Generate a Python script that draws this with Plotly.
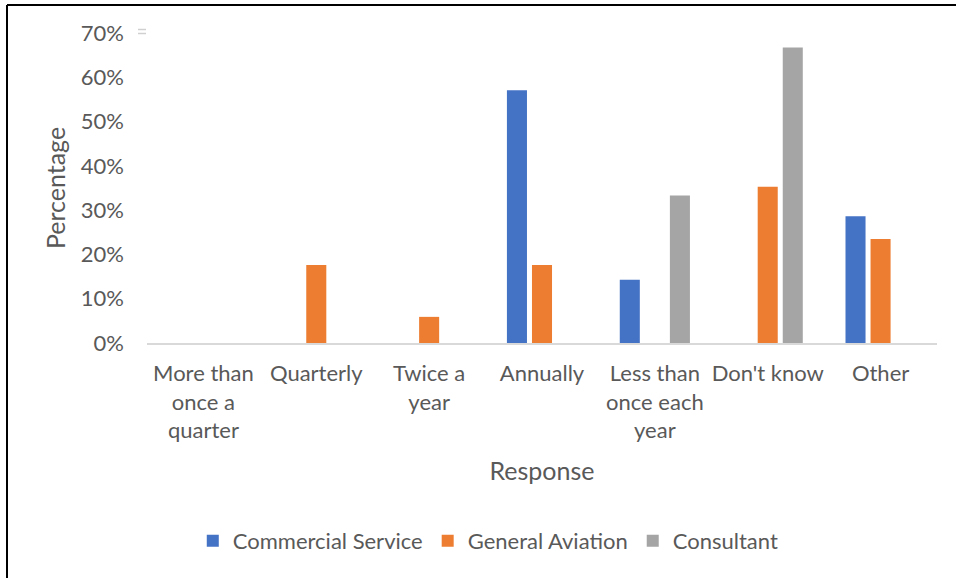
import plotly.graph_objects as go

# Survey responses: how often the facility's plan is reviewed
categories = [
    "More than<br>once a<br>quarter",
    "Quarterly",
    "Twice a<br>year",
    "Annually",
    "Less than<br>once each<br>year",
    "Don't know",
    "Other",
]
commercial_service = [0, 0, 0, 57.1, 14.3, 0, 28.6]
general_aviation = [0, 17.6, 5.9, 17.6, 0, 35.3, 23.5]
consultant = [0, 0, 0, 0, 33.3, 66.7, 0]

y_ticks = [0, 10, 20, 30, 40, 50, 60, 70]
y_tick_labels = [f"{v}%" for v in y_ticks]

W, H = 956, 578
ML, MR, MT, MB = 147, 19, 33, 235
PW, PH = W - ML - MR, H - MT - MB

FONT = "Lato, 'Open Sans', sans-serif"
TXT = "#595959"
FS = 22
FS_TITLE = 25


def px_x(px):
    return (px - ML) / PW


def px_y(py):
    return (H - MB - py) / PH


fig = go.Figure()
for name, vals, color in [
    ("Commercial Service", commercial_service, "#4472C4"),
    ("General Aviation", general_aviation, "#ED7D31"),
    ("Consultant", consultant, "#A5A5A5"),
]:
    fig.add_trace(go.Bar(name=name, x=categories, y=vals, marker_color=color,
                         marker_line_width=0))

# chart frame (top and left edges) and small stray mark near the top tick
shapes = [
    dict(type="line", xref="paper", yref="paper", x0=px_x(7), x1=px_x(W + 2),
         y0=px_y(5), y1=px_y(5), line=dict(color="#000000", width=2)),
    dict(type="line", xref="paper", yref="paper", x0=px_x(7), x1=px_x(7),
         y0=px_y(5), y1=px_y(H + 2), line=dict(color="#000000", width=2)),
    dict(type="line", xref="paper", yref="paper", x0=px_x(138), x1=px_x(146),
         y0=px_y(29.5), y1=px_y(29.5), line=dict(color="#D0D0D0", width=1.5)),
    dict(type="line", xref="paper", yref="paper", x0=px_x(138), x1=px_x(146),
         y0=px_y(33.5), y1=px_y(33.5), line=dict(color="#D0D0D0", width=1.5)),
]

fig.update_layout(
    width=W, height=H,
    margin=dict(l=ML, r=MR, t=MT, b=MB, pad=0),
    paper_bgcolor="white", plot_bgcolor="white",
    barmode="group", bargap=0.334, bargroupgap=0.2,
    font=dict(family=FONT, size=FS, color=TXT),
    showlegend=True,
    legend=dict(orientation="h", x=0.432, xanchor="center", y=px_y(541), yanchor="middle",
                font=dict(family=FONT, size=FS, color=TXT),
                traceorder="normal", itemwidth=30),
    shapes=shapes,
    xaxis=dict(
        title=dict(text="Response", font=dict(family=FONT, size=FS_TITLE, color=TXT),
                   standoff=20),
        showgrid=False, zeroline=False, showline=True, linecolor="#D9D9D9", linewidth=1.5,
        ticks="", tickfont=dict(family=FONT, size=FS, color=TXT), ticklabelstandoff=10,
        automargin=False,
    ),
    yaxis=dict(
        title=dict(text="Percentage", font=dict(family=FONT, size=FS_TITLE, color=TXT),
                   standoff=8),
        range=[0, 70], tickmode="array", tickvals=y_ticks, ticktext=y_tick_labels,
        showgrid=False, zeroline=False, showline=False, ticks="",
        tickfont=dict(family=FONT, size=FS, color=TXT), ticklabelstandoff=22,
        automargin=False,
    ),
)

fig.write_html("out.html")
